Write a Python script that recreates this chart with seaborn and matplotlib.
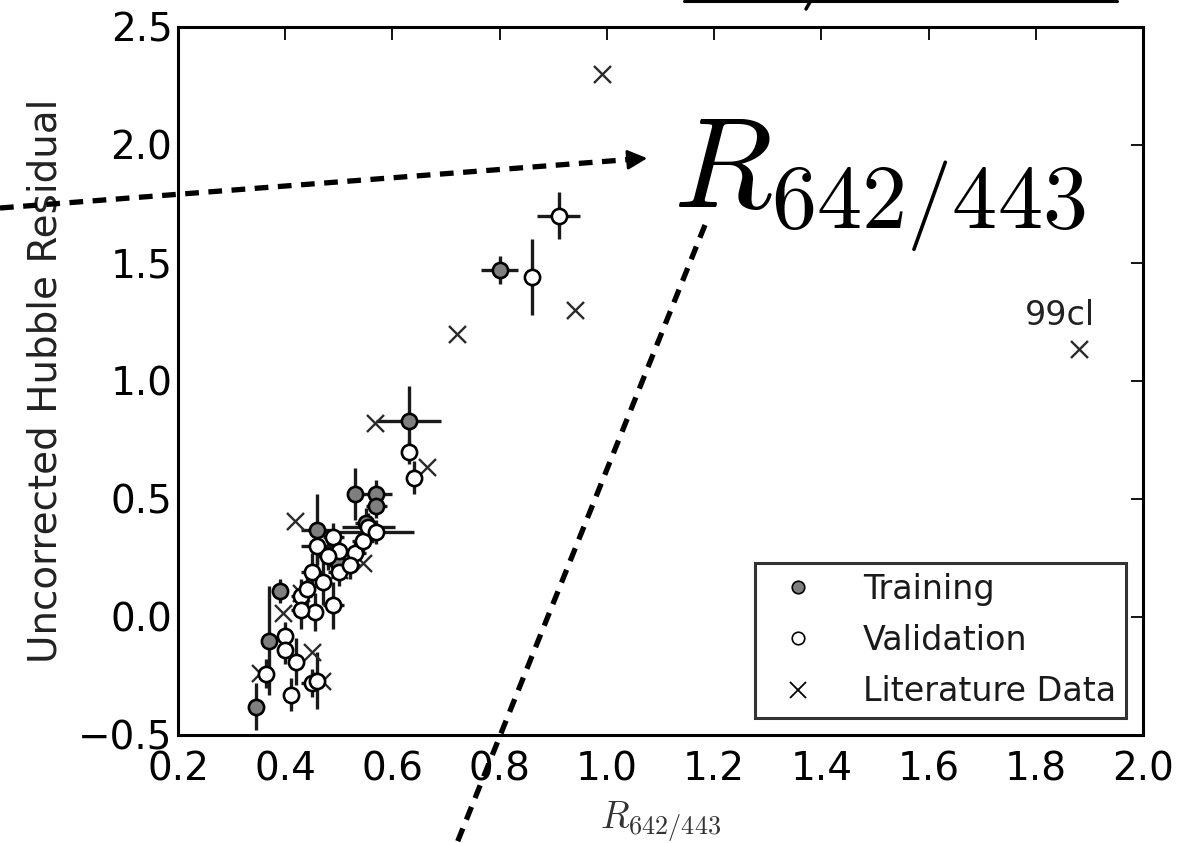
import numpy as np
import pandas as pd
import matplotlib
matplotlib.use("Agg")
import matplotlib.pyplot as plt
from matplotlib.lines import Line2D
import seaborn as sns

# ---------------- data ----------------
train_x = [0.80, 0.63, 0.53, 0.57, 0.57, 0.46, 0.39, 0.37, 0.345, 0.55, 0.50]
train_y = [1.47, 0.83, 0.52, 0.52, 0.47, 0.37, 0.11, -0.10, -0.38, 0.40, 0.22]
train_xerr = [0.035, 0.06, 0.01, 0.03, 0.02, 0.03, 0.01, 0.01, 0.01, 0.02, 0.02]
train_yerr = [0.06, 0.15, 0.11, 0.06, 0.05, 0.15, 0.05, 0.23, 0.10, 0.06, 0.06]

val_x = [0.91, 0.86, 0.63, 0.64, 0.49, 0.46, 0.50, 0.48, 0.53, 0.545, 0.555, 0.57,
         0.45, 0.50, 0.47, 0.43, 0.455, 0.49, 0.40, 0.40, 0.42, 0.45, 0.41, 0.365,
         0.46, 0.43, 0.52, 0.44]
val_y = [1.70, 1.44, 0.70, 0.59, 0.34, 0.30, 0.28, 0.26, 0.27, 0.32, 0.38, 0.36,
         0.19, 0.19, 0.15, 0.09, 0.02, 0.05, -0.08, -0.14, -0.19, -0.28, -0.33, -0.24,
         -0.27, 0.03, 0.22, 0.12]
val_xerr = [0.04, 0.0, 0.0, 0.0, 0.02, 0.03, 0.02, 0.02, 0.02, 0.02, 0.05, 0.07,
            0.02, 0.02, 0.01, 0.02, 0.01, 0.02, 0.01, 0.01, 0.01, 0.02, 0.01, 0.01,
            0.01, 0.02, 0.02, 0.01]
val_yerr = [0.10, 0.16, 0.05, 0.07, 0.06, 0.08, 0.05, 0.06, 0.05, 0.05, 0.06, 0.05,
            0.08, 0.06, 0.10, 0.07, 0.08, 0.10, 0.06, 0.06, 0.10, 0.06, 0.07, 0.06,
            0.12, 0.08, 0.06, 0.07]

lit_x = [0.99, 0.94, 0.72, 1.88, 0.567, 0.665, 0.418, 0.546, 0.353, 0.395, 0.45,
         0.468, 0.43, 0.50]
lit_y = [2.30, 1.30, 1.20, 1.135, 0.82, 0.636, 0.407, 0.229, -0.237, 0.017, -0.15,
         -0.27, 0.10, 0.20]

labels = ["Training", "Validation", "Literature Data"]
x_ticks = [0.2, 0.4, 0.6, 0.8, 1.0, 1.2, 1.4, 1.6, 1.8, 2.0]
y_ticks = [-0.5, 0.0, 0.5, 1.0, 1.5, 2.0, 2.5]

# ---------------- style ----------------
sns.set_style("white")
plt.rcParams["font.family"] = ["DejaVu Sans"]
plt.rcParams["mathtext.fontset"] = "cm"
plt.rcParams["text.color"] = "black"
plt.rcParams["axes.labelcolor"] = "black"

W, H = 1195, 843
fig = plt.figure(figsize=(W / 100, H / 100), dpi=100)
ax = fig.add_axes([178 / W, 1 - 735 / H, (1143 - 178) / W, (735 - 27) / H])

err_kw = dict(fmt="none", ecolor="#1a1a1a", elinewidth=2.4, capsize=0, zorder=2)
ax.errorbar(train_x, train_y, xerr=train_xerr, yerr=train_yerr, **err_kw)
ax.errorbar(val_x, val_y, xerr=val_xerr, yerr=val_yerr, **err_kw)

df_t = pd.DataFrame({"x": train_x, "y": train_y})
df_v = pd.DataFrame({"x": val_x, "y": val_y})
df_l = pd.DataFrame({"x": lit_x, "y": lit_y})

sns.scatterplot(data=df_l, x="x", y="y", ax=ax, marker="x", color="#2a2a2a",
                s=150, linewidth=1.7, zorder=3, legend=False)
sns.scatterplot(data=df_t, x="x", y="y", ax=ax, marker="o", color="#7f7f7f",
                edgecolor="black", s=120, linewidth=1.9, zorder=4, legend=False)
sns.scatterplot(data=df_v, x="x", y="y", ax=ax, marker="o", color="white",
                edgecolor="black", s=120, linewidth=1.9, zorder=4, legend=False)

ax.set_xlim(0.2, 2.0)
ax.set_ylim(-0.5, 2.5)
ax.set_xticks(x_ticks)
ax.set_yticks(y_ticks)
ax.set_xticklabels([f"{v:.1f}" for v in x_ticks])
ax.set_yticklabels([f"{v:.1f}".replace("-", "\u2212") for v in y_ticks])
ax.tick_params(direction="in", length=9, width=1.3, top=True, right=True,
               labelsize=28, pad=4, colors="black")
ax.tick_params(axis="x", pad=11)
for s in ax.spines.values():
    s.set_linewidth(2.2)
    s.set_color("black")

ax.set_xlabel(r"$R_{642/443}$", fontsize=27, labelpad=8, color="#333333")
ax.set_ylabel("Uncorrected Hubble Residual", fontsize=28, labelpad=10, color="#222222")

ax.text(1.845, 1.237, "99cl", fontsize=24, ha="center", va="baseline", color="#222222")

handles = [
    Line2D([], [], ls="none", marker="o", ms=9, mfc="#7f7f7f", mec="black", mew=1.2),
    Line2D([], [], ls="none", marker="o", ms=9, mfc="white", mec="black", mew=1.2),
    Line2D([], [], ls="none", marker="x", ms=11, mec="black", mew=1.3),
]
leg = ax.legend(handles, labels, loc="lower right", fontsize=24, frameon=True,
                fancybox=False, edgecolor="black", borderaxespad=0.5,
                handletextpad=0.95, labelspacing=0.55, borderpad=0.3)
leg.get_frame().set_linewidth(2.2)
for t in leg.get_texts():
    t.set_color("#1a1a1a")

# ---------------- overlay annotations ----------------
def fx(px):
    return px / W

def fy(py):
    return 1 - py / H

dash = (2.6, 1.8)
fig.add_artist(Line2D([fx(0), fx(636)], [fy(208), fy(159)], transform=fig.transFigure,
                      color="black", lw=3.8, dashes=dash))
fig.add_artist(Line2D([fx(705), fx(457)], [fy(225), fy(843)], transform=fig.transFigure,
                      color="black", lw=3.8, dashes=dash))
ax.annotate("", xy=(650, H - 158), xycoords="figure pixels",
            xytext=(625, H - 160), textcoords="figure pixels",
            arrowprops=dict(arrowstyle="-|>", color="black", lw=2, mutation_scale=30),
            annotation_clip=False)
fig.text(fx(673), fy(208), r"$R_{642/443}$", fontsize=93, ha="left", va="baseline",
         color="black")

fig.add_artist(Line2D([fx(684), fx(1117)], [fy(1), fy(1)], transform=fig.transFigure,
                      color="black", lw=2.2))
fig.add_artist(Line2D([fx(806), fx(810)], [fy(9), fy(2)], transform=fig.transFigure,
                      color="black", lw=2.5))

fig.savefig("out.png", dpi=100)
